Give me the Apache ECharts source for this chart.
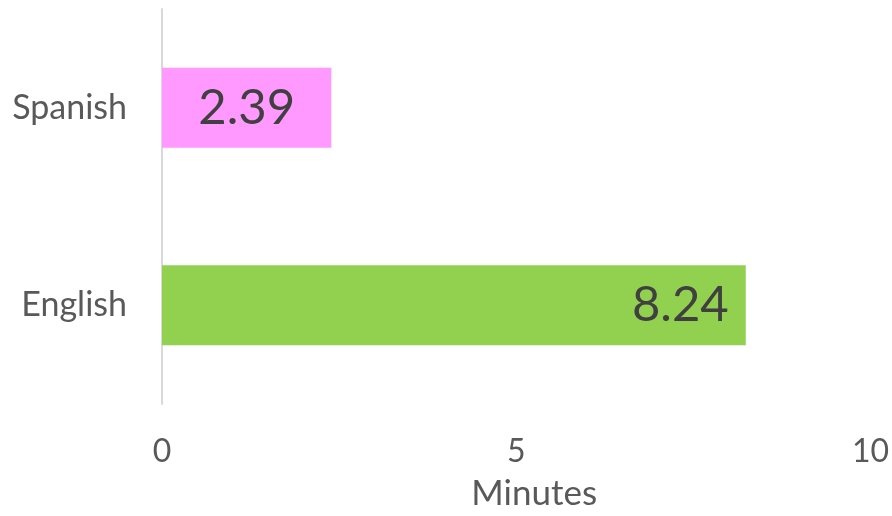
<!DOCTYPE html>
<html>
<head>
<meta charset="utf-8">
<script src="https://cdn.jsdelivr.net/npm/echarts@6/dist/echarts.min.js"></script>
<style>
  html, body { margin: 0; padding: 0; background: #fff; }
  #main { width: 892px; height: 516px; }
</style>
</head>
<body>
<div id="main"></div>
<script>
// languages, bottom to top
const languages = ['English', 'Spanish']
// minutes
const minutes = [8.24, 2.39]
const barColors = ['#92D050', '#FF99FF']
const labelPositions = ['insideRight', 'inside']

const chart = echarts.init(document.getElementById('main'), null, { renderer: 'canvas' })

const option = {
  animation: false,
  textStyle: { fontFamily: 'Lato' },
  grid: { left: 162, right: 19, top: 9, bottom: 107 },
  xAxis: {
    type: 'value',
    min: 0,
    max: 10,
    interval: 5,
    name: 'Minutes',
    nameLocation: 'middle',
    nameGap: 72,
    nameTextStyle: { color: '#595959', fontSize: 35, fontFamily: 'Lato', padding: [0, 0, 0, 36] },
    axisLine: { show: false },
    axisTick: { show: false },
    splitLine: { show: false },
    axisLabel: { color: '#595959', fontSize: 32, margin: 32, fontFamily: 'Lato' },
  },
  yAxis: {
    type: 'category',
    data: languages,
    axisLine: { show: true, lineStyle: { color: '#d9d9d9', width: 2 } },
    axisTick: { show: false },
    axisLabel: { color: '#595959', fontSize: 34, margin: 35, fontFamily: 'Lato' },
  },
  series: [
    {
      type: 'bar',
      barWidth: 80,
      data: minutes.map((v, i) => ({
        value: v,
        itemStyle: { color: barColors[i] },
        label: { position: labelPositions[i], distance: 17 },
      })),
      label: {
        show: true,
        color: '#404040',
        fontSize: 49,
        fontFamily: 'Lato',
      },
    },
  ],
}

option && chart.setOption(option)
</script>
</body>
</html>
